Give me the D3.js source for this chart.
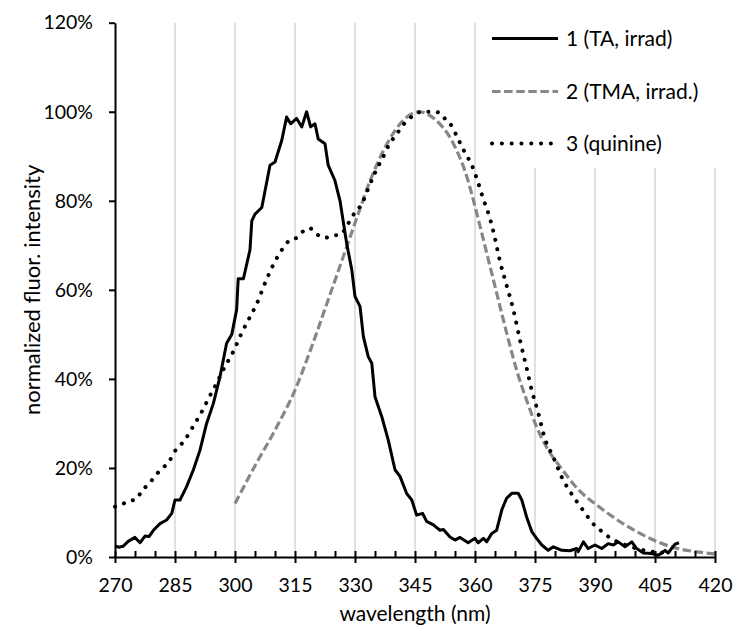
<!DOCTYPE html>
<html>
<head>
<meta charset="utf-8">
<script src="https://cdn.jsdelivr.net/npm/d3@7"></script>
<style>
  html, body { margin: 0; padding: 0; background: #fff; }
  svg { display: block; }
  text { font-family: Lato, "Open Sans", sans-serif; fill: #000; }
</style>
</head>
<body>
<svg id="chart" width="734" height="634"></svg>
<script>
// ---- data ----
const xTicks = [270, 285, 300, 315, 330, 345, 360, 375, 390, 405, 420];
const yTicks = [0, 20, 40, 60, 80, 100, 120];
const seriesNames = ["1 (TA, irrad)", "2 (TMA, irrad.)", "3 (quinine)"];
const xTitle = "wavelength (nm)";
const yTitle = "normalized fluor. intensity";

// series 1 : TA, irrad (wavelength nm, % )
const wl1 = [270,271,272,273.3,275,276.25,277.5,278.5,279.6,281.25,282.9,284.2,285,286.25,287.9,289.6,291.25,292.9,294.6,296.25,297.9,299.2,300.4,300.8,302.1,303.75,304.2,305,306.7,308.75,310,311.7,312.9,313.9,315.4,316.7,317.9,318.9,320,320.8,322.5,323.3,325,326.25,327.9,329.2,330,331.25,332.1,333.3,334.2,335,336.7,338.3,340,341.25,342.9,344.2,345.4,346.9,347.9,349.6,351.25,352.1,353.75,355,356.25,358.3,360,360.8,362.1,362.9,364.2,365.4,366.7,367.9,369.2,370.8,371.7,372.9,374.2,375.4,376.7,378.3,379.6,381.7,383.75,385.4,385.8,387.1,388.3,390,391.7,393.3,394.6,395.8,397.5,399.2,400.4,402.1,404.2,405.8,406.7,407.5,408.3,410,411];
const val1 = [2.5,2.2,2.4,3.5,4.4,3.2,4.7,4.6,6,7.5,8.3,9.8,12.8,12.8,15.8,19.6,24,30,34.5,40.5,48,50,55.5,62.5,62.5,69,75.5,77,78.5,88,88.7,93.6,98.8,97.3,98.5,96.6,100,96.6,97.3,93.9,92.8,88,84.5,80,70.5,64.5,58.5,56.3,49.5,45,43.5,36,31.5,26.3,19.6,18.1,14.3,12.8,9.4,9.8,8,7.2,6,6.2,4.5,3.8,4.4,3.2,4.2,3.2,4.2,3.4,5.3,6,10.6,13.2,14.3,14.3,12.8,9,5.7,4.2,2.7,1.5,2.3,1.5,1.4,1.9,1.2,3.4,1.9,2.7,1.9,3,2.7,3.4,2.3,3.4,1.9,0.9,0.8,0.4,0.9,1.5,0.9,2.9,3.2];

// series 2 : TMA, irrad.
const wl2 = [300,305,310,315,319,323,326.5,330,334,338,342,346,350,354.5,358,360.5,363,365.5,368,370.5,373,375.5,378,381.5,386,391,397,403,409,415,420];
const val2 = [12,20.5,28.5,37.5,46.8,57,66,75,85,92.8,98,100,98.3,93,85.3,77,68,59,50,41.7,35,29,24.5,20,15,11.3,7.5,4.5,2.3,1.2,0.7];

// series 3 : quinine
const wl3 = [270,271.1,273.3,275.4,276.7,278.5,280,281.7,283.5,285,287.5,289.5,291.5,293.5,295.5,297.5,299.5,301.5,303.5,305.5,307.5,309.5,311.5,313.6,315.4,317.1,318.6,320.25,322.5,324.6,326.4,328.3,330,331.7,333.2,335,337,338.75,340.4,341.7,343.3,344.75,346.7,349.2,351.25,352.9,354.2,355.4,357.5,359.2,360.8,362.1,363.3,364.6,366.25,367.9,369.6,371.25,372.9,374.2,375.8,377.5,379.6,381.7,384.2,387.1,390,392.1,394.2,396.25,398.3,401.25,403.75,406.25,408.75];
const val3 = [11.3,11.6,12.5,13,14.9,16.4,18.2,19.8,21.4,23.8,26.3,29.3,32.3,35.8,39.2,42.8,46,50,53.5,57,61.5,65.5,68.7,71.1,71.7,73.2,73.9,72.6,71.7,72.2,72.4,74.9,77.4,79.3,82.5,86.3,89.8,93,94.9,96.7,98.2,99.3,100,100,99.8,97.9,96.8,94.6,90.8,88,84,80.3,77.3,73.1,66.4,61,55.5,48.7,42.5,37.4,32.4,26.5,22.4,17.9,14.1,10.4,7,5.5,4,3.2,2.5,1.7,1.3,1,1];

// ---- layout ----
const W = 734, H = 634;
const mLeft = 115, mRight = 715, mTop = 22.7, mBottom = 557;
const TICK_FONT = 19.5, TITLE_FONT = 21, LEG_FONT = 21;

const svg = d3.select("#chart");
const x = d3.scaleLinear().domain([270, 420]).range([mLeft, mRight]);
const y = d3.scaleLinear().domain([0, 120]).range([mBottom, mTop]);

// gridlines
svg.append("g")
  .selectAll("line")
  .data(xTicks.slice(1))
  .join("line")
  .attr("x1", d => x(d)).attr("x2", d => x(d))
  .attr("y1", mTop).attr("y2", mBottom)
  .attr("stroke", "#d9d9d9").attr("stroke-width", 1.6);

// series
const s1 = wl1.map((w, i) => [w, val1[i]]);
const s2 = wl2.map((w, i) => [w, val2[i]]);
const s3 = wl3.map((w, i) => [w, val3[i]]);

const lineLin = d3.line().x(d => x(d[0])).y(d => y(d[1]));
const lineSmooth = d3.line().x(d => x(d[0])).y(d => y(d[1])).curve(d3.curveMonotoneX);

svg.append("path").datum(s2)
  .attr("d", lineSmooth)
  .attr("fill", "none").attr("stroke", "#878787")
  .attr("stroke-width", 3.2).attr("stroke-dasharray", "8.5 3.6");

svg.append("path").datum(s3)
  .attr("d", lineSmooth)
  .attr("fill", "none").attr("stroke", "#000")
  .attr("stroke-width", 4).attr("stroke-linecap", "round")
  .attr("stroke-dasharray", "0.1 9.4");

svg.append("path").datum(s1)
  .attr("d", lineLin)
  .attr("fill", "none").attr("stroke", "#000")
  .attr("stroke-width", 3).attr("stroke-linejoin", "round");

// y axis
const yAxis = svg.append("g")
  .attr("transform", `translate(${mLeft},0)`)
  .call(d3.axisLeft(y).tickValues(yTicks).tickFormat(d => d + "%")
    .tickSizeInner(6).tickSizeOuter(0).tickPadding(16));
yAxis.select(".domain").attr("stroke", "#000").attr("stroke-width", 2);
yAxis.selectAll(".tick line").attr("stroke", "#000").attr("stroke-width", 2);
yAxis.selectAll(".tick text").attr("font-size", TICK_FONT).attr("font-family", "Lato").attr("fill", "#000");

// x minor ticks (inside)
const minor = d3.range(275, 420, 5).filter(v => (v - 270) % 15 !== 0);
const xMinor = svg.append("g")
  .attr("transform", `translate(0,${mBottom})`)
  .call(d3.axisBottom(x).tickValues(minor).tickFormat("")
    .tickSizeInner(-6).tickSizeOuter(0));
xMinor.select(".domain").remove();
xMinor.selectAll(".tick line").attr("stroke", "#000").attr("stroke-width", 2);

// x axis
const xAxis = svg.append("g")
  .attr("transform", `translate(0,${mBottom})`)
  .call(d3.axisBottom(x).tickValues(xTicks).tickFormat(d3.format("d"))
    .tickSizeInner(6).tickSizeOuter(0).tickPadding(15));
xAxis.select(".domain").attr("stroke", "#000").attr("stroke-width", 2);
xAxis.selectAll(".tick line").attr("stroke", "#000").attr("stroke-width", 2).attr("y1", -6);
xAxis.selectAll(".tick text").attr("font-size", TICK_FONT).attr("font-family", "Lato").attr("fill", "#000");

// axis titles
svg.append("text")
  .attr("x", (mLeft + mRight) / 2).attr("y", 621)
  .attr("text-anchor", "middle").attr("font-size", TITLE_FONT)
  .text(xTitle);

svg.append("text")
  .attr("transform", `translate(40,${(mTop + mBottom) / 2}) rotate(-90)`)
  .attr("text-anchor", "middle").attr("font-size", TITLE_FONT + 1)
  .text(yTitle);

// legend
const legend = svg.append("g");
legend.append("rect")
  .attr("x", 480).attr("y", mTop - 1).attr("width", W - 480).attr("height", 168 - mTop + 1)
  .attr("fill", "#fff");
const legY = [38.5, 91.5, 143.5];
const styles = [
  {stroke: "#000", width: 3, dash: null, cap: "butt"},
  {stroke: "#878787", width: 3.2, dash: "8.5 3.6", cap: "butt"},
  {stroke: "#000", width: 4, dash: "0.1 9.7", cap: "round"}
];
seriesNames.forEach((name, i) => {
  const st = styles[i];
  const ln = legend.append("line")
    .attr("x1", 492).attr("x2", 558)
    .attr("y1", legY[i]).attr("y2", legY[i])
    .attr("stroke", st.stroke).attr("stroke-width", st.width)
    .attr("stroke-linecap", st.cap);
  if (st.dash) ln.attr("stroke-dasharray", st.dash);
  legend.append("text")
    .attr("x", 566).attr("y", legY[i]).attr("dy", "0.37em")
    .attr("font-size", LEG_FONT)
    .text(name);
});
</script>
</body>
</html>
